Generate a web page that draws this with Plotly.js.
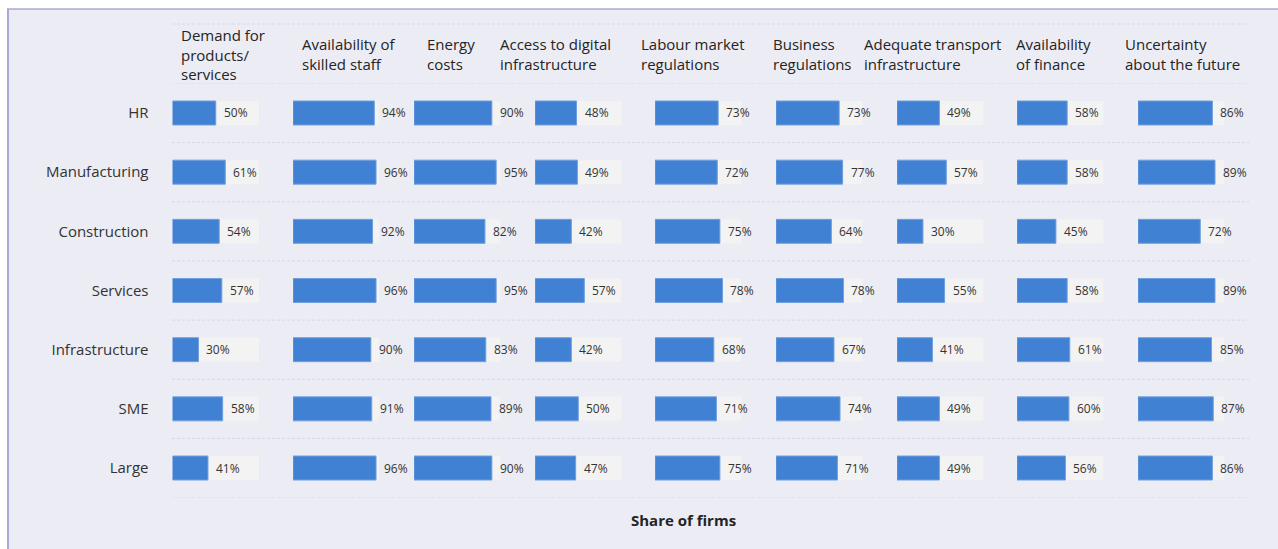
<!DOCTYPE html>
<html>
<head>
<meta charset="utf-8">
<script src="https://cdn.plot.ly/plotly-3.0.1.min.js"></script>
<style>html,body{margin:0;padding:0;background:#fff;}#chart{width:1278px;height:549px;}</style>
</head>
<body>
<div id="chart"></div>
<script>
// ---------- DATA ----------
const rows = ["HR", "Manufacturing", "Construction", "Services", "Infrastructure", "SME", "Large"];
const factors = [
  "Demand for<br>products/<br>services",
  "Availability of<br>skilled staff",
  "Energy<br>costs",
  "Access to digital<br>infrastructure",
  "Labour market<br>regulations",
  "Business<br>regulations",
  "Adequate transport<br>infrastructure",
  "Availability<br>of finance",
  "Uncertainty<br>about the future"
];
const demand      = [50, 61, 54, 57, 30, 58, 41];
const skilledStaff= [94, 96, 92, 96, 90, 91, 96];
const energy      = [90, 95, 82, 95, 83, 89, 90];
const digital     = [48, 49, 42, 57, 42, 50, 47];
const labour      = [73, 72, 75, 78, 68, 71, 75];
const business    = [73, 77, 64, 78, 67, 74, 71];
const transport   = [49, 57, 30, 55, 41, 49, 49];
const finance     = [58, 58, 45, 58, 61, 60, 56];
const uncertainty = [86, 89, 72, 89, 85, 87, 86];
const xTitle = "Share of firms";
const FULL = 100;

// ---------- LAYOUT CONSTANTS (pixels) ----------
const W = 1278, H = 549;
const colLeft = [172.5, 293, 414, 535, 655, 776, 897, 1017, 1138];
const cellW = 86.5;
const headerX = [179, 300, 425, 498, 639, 771, 862, 1014, 1123];
const headerYc = 54;
const bandTop = 83.4, bandBottom = 497.6;
const px = v => v / W;
const py = v => 1 - v / H;

const series = [demand, skilledStaff, energy, digital, labour, business, transport, finance, uncertainty];

const traces = [];
const layout = {
  width: W, height: H,
  margin: {l: 0, r: 0, t: 0, b: 0},
  paper_bgcolor: "#ffffff",
  plot_bgcolor: "rgba(0,0,0,0)",
  showlegend: false,
  barmode: "overlay",
  font: {family: "Open Sans, Noto Sans, sans-serif", color: "#333333"},
  yaxis: {
    type: "category", categoryorder: "array", categoryarray: rows,
    range: [rows.length - 0.5, -0.5],
    domain: [py(bandBottom), py(bandTop)],
    anchor: "x", showgrid: false, zeroline: false, showline: false,
    ticks: "", ticklabelstandoff: 23,
    tickfont: {size: 15, color: "#333333", family: "Open Sans, sans-serif"},
    fixedrange: true
  },
  shapes: [],
  annotations: []
};

// background frame
layout.shapes.push({type: "rect", xref: "paper", yref: "paper", x0: px(7), x1: 1, y0: 0, y1: py(9),
  fillcolor: "#ECECF4", line: {width: 0}, layer: "below"});
layout.shapes.push({type: "line", xref: "paper", yref: "paper", x0: px(8), x1: px(8), y0: 0, y1: py(9),
  line: {color: "#A9A9D6", width: 2}, layer: "below"});
layout.shapes.push({type: "line", xref: "paper", yref: "paper", x0: px(7), x1: 1, y0: py(9), y1: py(9),
  line: {color: "#A9A9D6", width: 1.5}, layer: "below"});

// separators
const sepStyle = {color: "#D6D8E6", width: 1, dash: "3px,2px"};
layout.shapes.push({type: "line", xref: "paper", yref: "paper", x0: px(172), x1: px(1249), y0: py(24), y1: py(24), line: sepStyle, layer: "below"});
for (let k = 0; k <= rows.length; k++) {
  layout.shapes.push({type: "line", xref: "paper", yref: "y", x0: px(172), x1: px(1249), y0: k - 0.5, y1: k - 0.5, line: sepStyle, layer: "below"});
}

series.forEach((vals, i) => {
  const id = i === 0 ? "" : String(i + 1);
  const xref = "x" + id;
  layout["xaxis" + id] = {
    domain: [px(colLeft[i]), px(colLeft[i] + cellW)],
    range: [0, FULL], anchor: "y",
    showgrid: false, zeroline: false, showline: false, showticklabels: false, ticks: "",
    fixedrange: true
  };
  traces.push({
    type: "bar", orientation: "h", x: rows.map(() => FULL), y: rows,
    xaxis: xref, yaxis: "y", width: 0.405,
    marker: {color: "#F3F3F3", line: {width: 0}}, hoverinfo: "skip"
  });
  traces.push({
    type: "bar", orientation: "h", x: vals, y: rows,
    xaxis: xref, yaxis: "y", width: 0.405,
    marker: {color: "#4181D3", line: {color: "#6F9FDE", width: 1}}, hoverinfo: "skip"
  });
  vals.forEach((v, r) => {
    layout.annotations.push({
      x: v, xref: xref, y: rows[r], yref: "y", xanchor: "left", yanchor: "middle",
      xshift: 6, text: v + "%", showarrow: false,
      font: {size: 12, color: "#333333", family: "Open Sans, sans-serif"}
    });
  });
  layout.annotations.push({
    x: px(headerX[i]), xref: "paper", y: py(headerYc), yref: "paper",
    xanchor: "left", yanchor: "middle", align: "left", text: factors[i], showarrow: false,
    font: {size: 15, color: "#252423", family: "Open Sans, sans-serif"}
  });
});

layout.annotations.push({
  x: px(683.5), xref: "paper", y: py(520), yref: "paper", xanchor: "center", yanchor: "middle",
  text: "<b>" + xTitle + "</b>", showarrow: false,
  font: {size: 15, color: "#252423", family: "Open Sans, sans-serif"}
});

Plotly.newPlot("chart", traces, layout, {displayModeBar: false, staticPlot: true});
</script>
</body>
</html>
